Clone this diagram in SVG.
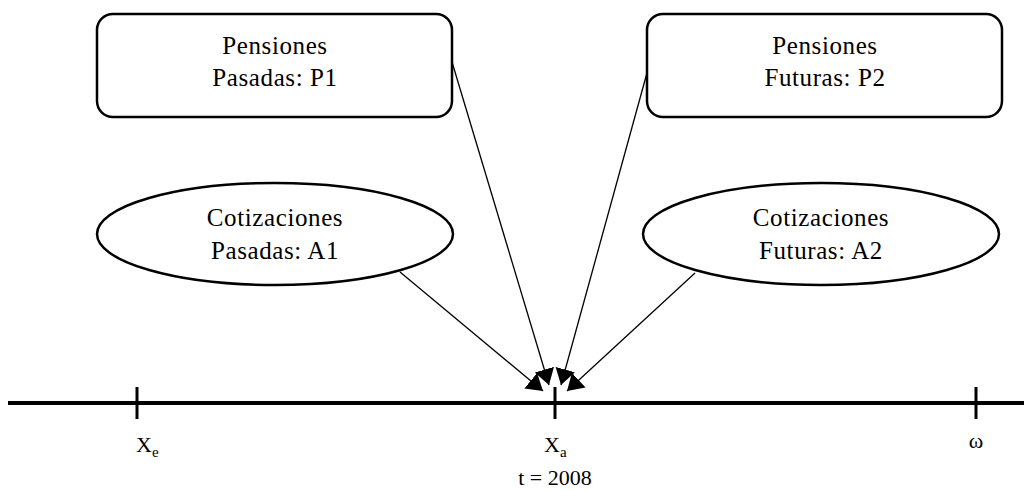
<svg xmlns="http://www.w3.org/2000/svg" width="1024" height="490" viewBox="0 0 1024 490">
<style>
  .node { fill: #ffffff; stroke: #000000; stroke-width: 2.5; }
  .lbl { font-family: "Liberation Serif", "DejaVu Serif", serif; font-size: 25px; letter-spacing: 0.6px; fill: #000000; text-anchor: middle; }
  .ax { font-family: "Liberation Serif", "DejaVu Serif", serif; font-size: 22px; fill: #000000; }
  .sub { font-size: 15px; }
  .conn { stroke: #000000; stroke-width: 1.3; fill: none; marker-end: url(#arrow); }
  .axis { stroke: #000000; stroke-width: 4; fill: none; }
  .tick { stroke: #000000; stroke-width: 3; fill: none; }
</style>
<defs>
  <marker id="arrow" markerUnits="userSpaceOnUse" markerWidth="17" markerHeight="20" refX="16" refY="10" orient="auto" viewBox="0 0 17 20">
    <path d="M0,0 L16,10 L0,20 z" fill="#000000"/>
  </marker>
</defs>
<rect width="1024" height="490" fill="#ffffff"/>

<g id="axis">
  <line class="axis" x1="8" y1="403" x2="1024" y2="403"/>
  <line class="tick" x1="137" y1="387" x2="137" y2="419"/>
  <line class="tick" x1="555" y1="387" x2="555" y2="419"/>
  <line class="tick" x1="976" y1="387" x2="976" y2="419"/>
  <text class="ax" x="136" y="452">X<tspan class="sub" dy="5">e</tspan></text>
  <text class="ax" x="544" y="452">X<tspan class="sub" dy="5">a</tspan></text>
  <text class="ax" x="976" y="448" text-anchor="middle">ω</text>
  <text class="ax" x="555" y="485" text-anchor="middle">t = 2008</text>
</g>

<g id="connectors">
  <line class="conn" x1="452" y1="62" x2="549" y2="385"/>
  <line class="conn" x1="650" y1="62" x2="561" y2="385"/>
  <line class="conn" x1="400" y1="272" x2="543" y2="391"/>
  <line class="conn" x1="695" y1="273" x2="567" y2="391"/>
</g>

<g id="node-p1">
  <rect class="node" x="97" y="14" width="355" height="103" rx="16" ry="16"/>
  <text class="lbl" x="275" y="54">Pensiones</text>
  <text class="lbl" x="275" y="86">Pasadas: P1</text>
</g>
<g id="node-p2">
  <rect class="node" x="647" y="14" width="355" height="103" rx="16" ry="16"/>
  <text class="lbl" x="825" y="54">Pensiones</text>
  <text class="lbl" x="825" y="86">Futuras: P2</text>
</g>
<g id="node-a1">
  <ellipse class="node" cx="275" cy="234" rx="178" ry="51"/>
  <text class="lbl" x="275" y="226">Cotizaciones</text>
  <text class="lbl" x="275" y="259">Pasadas: A1</text>
</g>
<g id="node-a2">
  <ellipse class="node" cx="821" cy="234" rx="178" ry="51"/>
  <text class="lbl" x="821" y="226">Cotizaciones</text>
  <text class="lbl" x="821" y="259">Futuras: A2</text>
</g>
</svg>
